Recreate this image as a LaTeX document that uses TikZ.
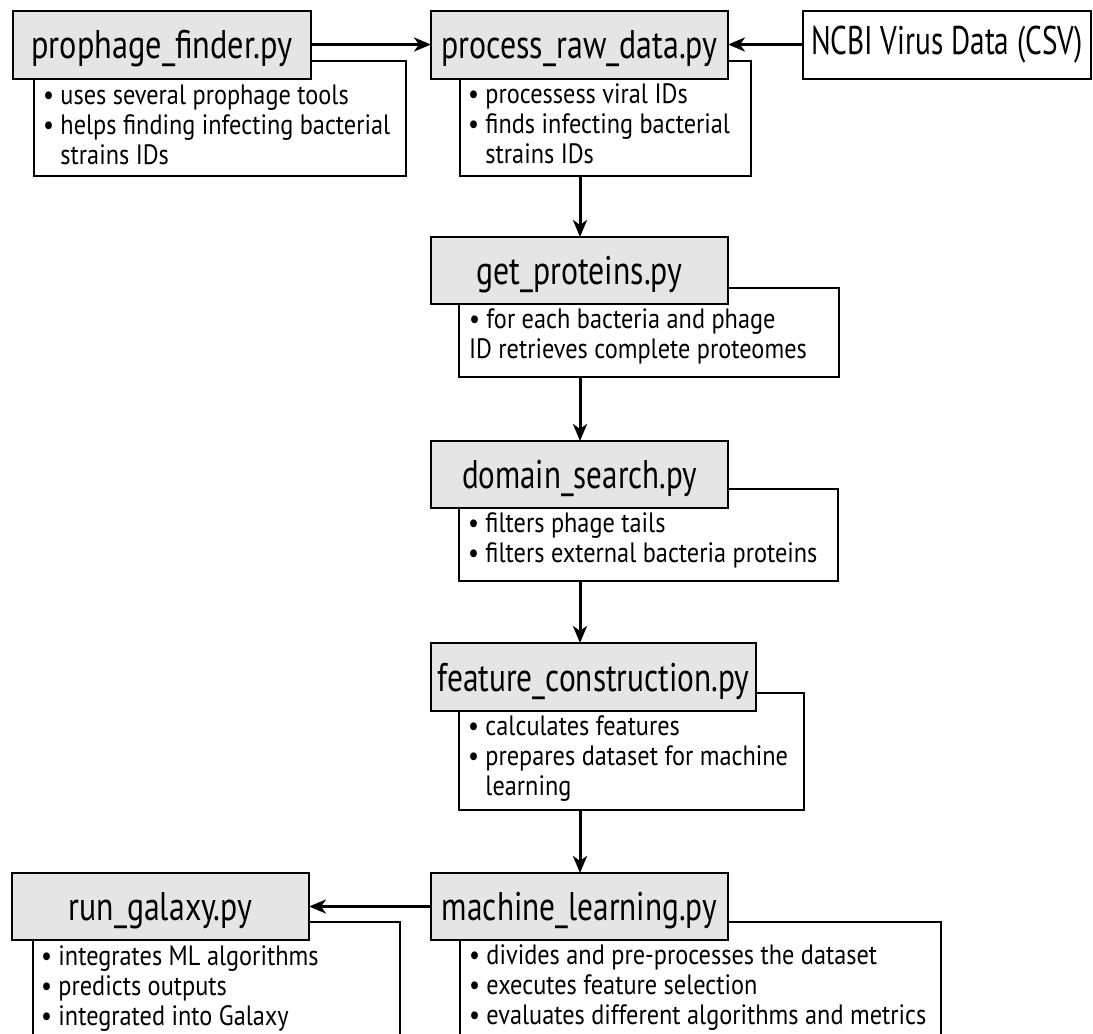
\documentclass[tikz,border=0pt]{standalone}
\usepackage{fontspec}
\setmainfont{PT Sans}
\usetikzlibrary{arrows.meta}
\definecolor{hdrgray}{HTML}{E5E5E5}
\newcommand{\bsx}{0.868}
\newcommand{\fitw}[2]{\resizebox{#1}{\height}{#2}}
\newcommand{\btxt}[1]{\scalebox{\bsx}[1]{\parbox[t]{700pt}{\fontsize{28}{30}\selectfont #1}}}
\newcommand{\hang}{\hphantom{•\ }}
\begin{document}
\begin{tikzpicture}[x=1pt,y=-1pt,
  box/.style={draw, line width=2pt, inner sep=0pt, outer sep=0pt, anchor=north west},
  hdr/.style={box, fill=hdrgray, font=\fontsize{40}{44}\selectfont, text height=38pt, text depth=10pt},
  desc/.style={box, fill=white},
  src/.style={box, fill=white, font=\fontsize{40}{44}\selectfont, text height=32pt, text depth=12pt},
  btext/.style={anchor=base west, inner sep=0pt, outer sep=0pt},
  arr/.style={line width=3pt, -{Stealth[length=17pt,width=14pt,inset=5pt]}}]
\clip (0,0) rectangle (1093,1034);
\fill[white] (0,0) rectangle (1093,1034);
\coordinate (col) at (580,0);
% prophage_finder
\node[desc, minimum width=372, minimum height=115] (pfd) at (34,61) {};
\node[hdr, minimum width=298, minimum height=68] (pf) at (13,10.5) {\fitw{261pt}{prophage\_finder.py}};
\node[btext] (pft) at (43,104) {\btxt{• uses several prophage tools\\• helps finding infecting bacterial\\\hang strains IDs}};
% process_raw_data
\node[desc, minimum width=291, minimum height=115] (prd) at (460,61) {};
\node[hdr, minimum width=297, minimum height=68] (pr) at (431,10.5) {\fitw{276pt}{process\_raw\_data.py}};
\node[btext] (prt) at (468,103) {\btxt{• processess viral IDs\\• finds infecting bacterial\\\hang strains IDs}};
% NCBI
\node[src, minimum width=288, minimum height=68] (ncbi) at (803,10.5) {\fitw{272pt}{NCBI Virus Data (CSV)}};
% get_proteins
\node[desc, minimum width=380, minimum height=89] (gpd) at (459,288) {};
\node[hdr, minimum width=297, minimum height=67] (gp) at (431,237) {\fitw{206pt}{get\_proteins.py}};
\node[btext] (gpt) at (469,328) {\btxt{• for each bacteria and phage\\ID retrieves complete proteomes}};
% domain_search
\node[desc, minimum width=379, minimum height=92] (dsd) at (459,489) {};
\node[hdr, minimum width=297, minimum height=67] (ds) at (431,441) {\fitw{235pt}{domain\_search.py}};
\node[btext] (dst) at (468,532) {\btxt{• filters phage tails\\• filters external bacteria proteins}};
% feature_construction
\node[desc, minimum width=345, minimum height=117] (fcd) at (459,693) {};
\node[hdr, minimum width=325, minimum height=68] (fc) at (431,643) {\fitw{312pt}{feature\_construction.py}};
\node[btext] (fct) at (468,735) {\btxt{• calculates features\\• prepares dataset for machine\\\hang learning}};
% machine_learning
\node[desc, minimum width=481, minimum height=130] (mld) at (460,922) {};
\node[hdr, minimum width=297, minimum height=67] (ml) at (431,873) {\fitw{275pt}{machine\_learning.py}};
\node[btext] (mlt) at (469,964) {\btxt{• divides and pre-processes the dataset\\• executes feature selection\\• evaluates different algorithms and metrics}};
% run_galaxy
\node[desc, minimum width=367, minimum height=130] (rgd) at (33,922) {};
\node[hdr, minimum width=297, minimum height=67] (rg) at (12,873) {\fitw{183pt}{run\_galaxy.py}};
\node[btext] (rgt) at (41,965) {\btxt{• integrates ML algorithms\\• predicts outputs\\• integrated into Galaxy}};
% connectors
\draw[arr] (pf.east) -- (pr.west);
\draw[arr] (ncbi.west) -- (pr.east);
\draw[arr] (prd.south -| col) -- (gp.north -| col);
\draw[arr] (gpd.south -| col) -- (ds.north -| col);
\draw[arr] (dsd.south -| col) -- (fc.north -| col);
\draw[arr] (fcd.south -| col) -- (ml.north -| col);
\draw[arr] (ml.west) -- (rg.east);
\end{tikzpicture}
\end{document}
